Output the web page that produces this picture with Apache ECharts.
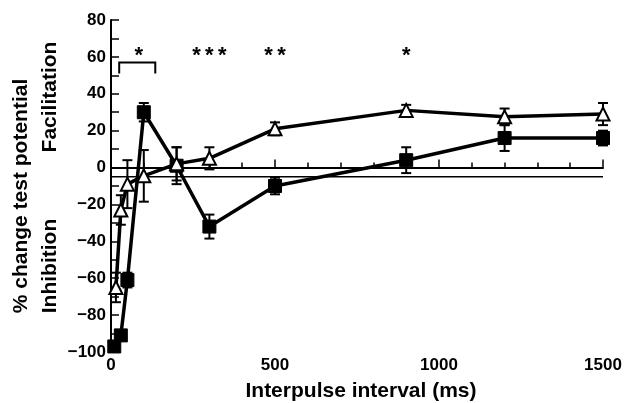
<!DOCTYPE html>
<html><head><meta charset="utf-8">
<script src="https://cdn.jsdelivr.net/npm/echarts@6/dist/echarts.min.js"></script>
<style>html,body{margin:0;padding:0;background:#fff}#c{width:625px;height:403px}</style>
</head><body><div id="c"></div>
<script>
// Data
var sqX   = [10, 30, 50, 100, 200, 300, 500, 900, 1200, 1500];
var sqY   = [-97, -91, -61, 30, 1, -32, -10, 4, 16, 16];
var sqErr = [2, 2, 4, 5, 10, 6.5, 4.5, 7, 7, 4];
var trX   = [15, 30, 50, 100, 200, 300, 500, 900, 1200, 1500];
var trY   = [-65, -23, -9, -4.5, 2, 5, 21, 31, 27.5, 29];
var trErr = [8, 8, 13, 14, 9, 6, 3.5, 3, 4.5, 6];
var refLevel = -5;
var sigX = [300, 500, 900];
var sigText = ['*\u2009*\u2009*', '*\u2009*', '*'];
var sigY = 60.5;
var bracketX = [25, 135];
var bracketStarX = 85;
var xTicks = [0, 500, 1000, 1500];
var yTicks = [-100, -80, -60, -40, -20, 0, 20, 40, 60, 80];

function zip(xs, ys){ return xs.map(function(x,i){ return [x, ys[i]]; }); }
function errData(xs, ys, es){ return xs.map(function(x,i){ return [x, ys[i]-es[i], ys[i]+es[i]]; }); }

function errRender(params, api){
  var x = api.value(0);
  var lo = api.coord([x, api.value(1)]);
  var hi = api.coord([x, api.value(2)]);
  var w = 5;
  var st = {stroke:'#000', lineWidth:2};
  return {type:'group', children:[
    {type:'line', shape:{x1:lo[0],y1:lo[1],x2:hi[0],y2:hi[1]}, style:st},
    {type:'line', shape:{x1:lo[0]-w,y1:lo[1],x2:lo[0]+w,y2:lo[1]}, style:st},
    {type:'line', shape:{x1:hi[0]-w,y1:hi[1],x2:hi[0]+w,y2:hi[1]}, style:st}
  ]};
}

var chart = echarts.init(document.getElementById('c'), null, {renderer:'canvas'});
var font = 'Liberation Sans, Arial, sans-serif';
chart.setOption({
  animation:false,
  backgroundColor:'#fff',
  grid:{left:111, right:22, top:20, bottom:51},
  xAxis:{type:'value', min:0, max:1500, interval:500,
    axisLine:{lineStyle:{color:'#000', width:2}},
    axisTick:{inside:true, length:8, lineStyle:{color:'#000', width:1.5}},
    minorTick:{show:true, splitNumber:5, length:5, lineStyle:{color:'#000', width:1.5}},
    splitLine:{show:false},
    axisLabel:{color:'#000', fontSize:17, fontWeight:'bold', fontFamily:font, margin:5,
      formatter:function(v){ return xTicks.indexOf(v)>=0 ? String(v) : ''; }}
  },
  yAxis:{type:'value', min:-100, max:80, interval:20,
    axisLine:{lineStyle:{color:'#000', width:2}},
    axisTick:{inside:true, length:8, lineStyle:{color:'#000', width:1.5}},
    minorTick:{show:true, splitNumber:2, length:8, lineStyle:{color:'#000', width:1.5}},
    splitLine:{show:false},
    axisLabel:{color:'#000', fontSize:17, fontWeight:'bold', fontFamily:font, margin:5,
      formatter:function(v){ return yTicks.indexOf(v)>=0 ? String(v).replace('-', '\u2212') : ''; }}
  },
  series:[
    {type:'line', name:'ref', data:[[0, refLevel],[1500, refLevel]], symbol:'none', silent:true,
      lineStyle:{color:'#000', width:1.5}, z:1},
    {type:'custom', name:'sqErr', data:errData(sqX, sqY, sqErr), renderItem:errRender, z:2},
    {type:'custom', name:'trErr', data:errData(trX, trY, trErr), renderItem:errRender, z:2},
    {type:'line', name:'squares', data:zip(sqX, sqY), symbol:'rect', symbolSize:13,
      lineStyle:{color:'#000', width:3.5}, itemStyle:{color:'#000', borderColor:'#000'}, z:3},
    {type:'line', name:'triangles', data:zip(trX, trY), symbol:'triangle', symbolSize:13,
      lineStyle:{color:'#000', width:3.5}, itemStyle:{color:'#fff', borderColor:'#000', borderWidth:2}, z:4},
    {type:'custom', name:'sig', data:sigX.map(function(x,i){ return [x, sigY, i]; }),
      renderItem:function(params, api){
        var p = api.coord([api.value(0), api.value(1)]);
        return {type:'text', x:p[0], y:p[1], style:{text:sigText[api.value(2)], fill:'#000',
          font:'bold 22px '+font, align:'center', verticalAlign:'middle'}};
      }, z:5},
    {type:'custom', name:'bracket', data:[[bracketX[0], bracketX[1]]],
      renderItem:function(params, api){
        var a = api.coord([api.value(0), 57]);
        var b = api.coord([api.value(1), 57]);
        var a2 = api.coord([api.value(0), 51]);
        var b2 = api.coord([api.value(1), 51]);
        var s = api.coord([bracketStarX, sigY]);
        return {type:'group', children:[
          {type:'polyline', shape:{points:[a2, a, b, b2]}, style:{stroke:'#000', lineWidth:2, fill:null}},
          {type:'text', x:s[0], y:s[1], style:{text:'*', fill:'#000', font:'bold 22px '+font, align:'center', verticalAlign:'middle'}}
        ]};
      }, z:5}
  ],
  graphic:[
    {type:'text', x:21, y:196, rotation:Math.PI/2, style:{text:'% change test potential', fill:'#000',
      font:'bold 21px '+font, align:'center', verticalAlign:'middle'}},
    {type:'text', x:50, y:97, rotation:Math.PI/2, style:{text:'Facilitation', fill:'#000',
      font:'bold 21px '+font, align:'center', verticalAlign:'middle'}},
    {type:'text', x:50, y:266, rotation:Math.PI/2, style:{text:'Inhibition', fill:'#000',
      font:'bold 21px '+font, align:'center', verticalAlign:'middle'}},
    {type:'text', x:361, y:391, style:{text:'Interpulse interval (ms)', fill:'#000',
      font:'bold 21px '+font, align:'center', verticalAlign:'middle'}}
  ]
});
</script></body></html>
